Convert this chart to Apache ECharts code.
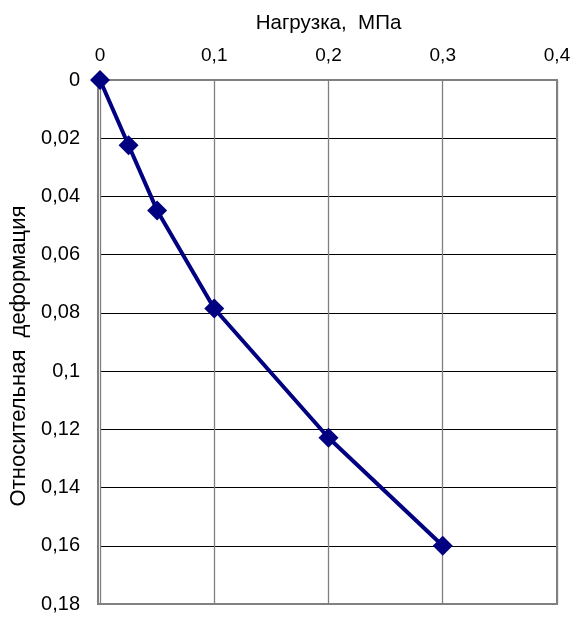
<!DOCTYPE html>
<html><head><meta charset="utf-8">
<script src="https://cdn.jsdelivr.net/npm/echarts@6/dist/echarts.min.js"></script>
<style>html,body{margin:0;padding:0;background:#fff}#c{width:575px;height:617px}</style>
</head><body><div id="c"></div>
<script>
const loads = [0, 0.025, 0.05, 0.1, 0.2, 0.3];
const strains = [0, 0.0224, 0.0448, 0.0785, 0.1229, 0.160];
const xTitle = 'Нагрузка,  МПа';
const yTitle = 'Относительная  деформация';
const fmt = v => String(+v.toFixed(2)).replace('.', ',');
const chart = echarts.init(document.getElementById('c'));
chart.setOption({
  animation: false,
  grid: {left: 98, top: 80, right: 18, bottom: 13},
  xAxis: {
    type: 'value', position: 'top', min: 0, max: 0.4, interval: 0.1,
    name: xTitle, nameLocation: 'middle', nameGap: 46,
    nameTextStyle: {fontFamily: 'Liberation Sans', fontSize: 20.5, color: '#000'},
    axisLine: {show: false},
    axisTick: {show: false},
    axisLabel: {formatter: fmt, fontFamily: 'Liberation Sans', fontSize: 19, color: '#000', margin: 15},
    splitLine: {show: true, lineStyle: {color: '#808080', width: 1.3}}
  },
  yAxis: {
    type: 'value', inverse: true, min: 0, max: 0.18, interval: 0.02,
    name: yTitle, nameLocation: 'middle', nameGap: 70, nameRotate: 90,
    nameTextStyle: {fontFamily: 'Liberation Sans', fontSize: 22, color: '#000', padding: [0, 28, 0, 0]},
    axisLine: {show: false},
    axisTick: {show: false},
    axisLabel: {formatter: fmt, fontFamily: 'Liberation Sans', fontSize: 20, color: '#000', margin: 20},
    splitLine: {show: true, lineStyle: {color: '#000', width: 1}}
  },
  series: [{
    type: 'line', data: loads.map((x, i) => [x, strains[i]]),
    lineStyle: {color: '#000080', width: 4},
    itemStyle: {color: '#000080'},
    symbol: 'diamond', symbolSize: 20, showSymbol: true, z: 5
  }],
  graphic: [{type: 'rect', shape: {x: 98, y: 80, width: 459, height: 524}, style: {fill: 'none', stroke: '#808080', lineWidth: 2}, z: 1}]
});
</script></body></html>
